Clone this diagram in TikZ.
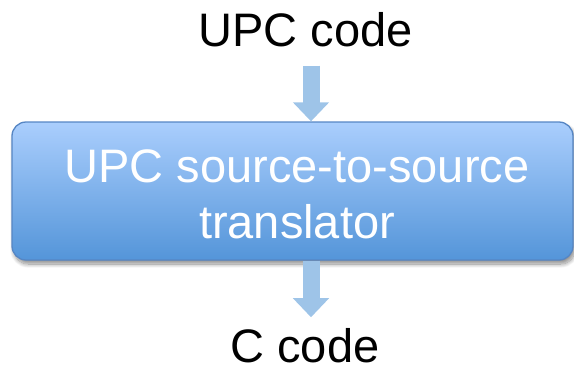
\documentclass[tikz,border=0pt]{standalone}
\usepackage{fontspec}
\setmainfont{Liberation Sans}
\usetikzlibrary{arrows.meta,shadows.blur}
\definecolor{boxtop}{RGB}{170,206,253}
\definecolor{boxbot}{RGB}{84,149,217}
\definecolor{boxedge}{RGB}{86,134,196}
\definecolor{arrowblue}{RGB}{158,196,232}
\tikzset{
  bigtext/.style={font=\fontsize{47}{56}\selectfont, inner sep=0pt},
  transbox/.style={draw=boxedge, line width=1.3pt, rounded corners=14pt,
    top color=boxtop, bottom color=boxbot,
    minimum width=561pt, minimum height=138pt,
    blur shadow={shadow xshift=2pt, shadow yshift=-4pt, shadow blur radius=4pt, shadow blur steps=12, shadow opacity=45}},
  blockarrow/.style={draw=arrowblue, line width=17pt,
    -{Triangle[width=35pt,length=19pt,fill=arrowblue]}}
}
\begin{document}
\begin{tikzpicture}[x=1pt,y=-1pt]
\useasboundingbox (0,0) rectangle (574,370);
\node (upc) [bigtext, anchor=base] at (305.5,46) {UPC code};
\node (box) [transbox] at (292.5,191) {};
\node (boxlabel) [bigtext, align=center, text=white, anchor=base] at (297,238) {UPC source-to-source\\translator};
\node (ccode) [bigtext, anchor=base] at (305,362) {C code};
\coordinate (ax) at (311,0);
\draw[blockarrow, shorten <=19pt] (upc.south -| ax) -- (box.north -| ax);
\draw[blockarrow, shorten >=10.5pt] (box.south -| ax) -- (ccode.north -| ax);
\end{tikzpicture}
\end{document}
